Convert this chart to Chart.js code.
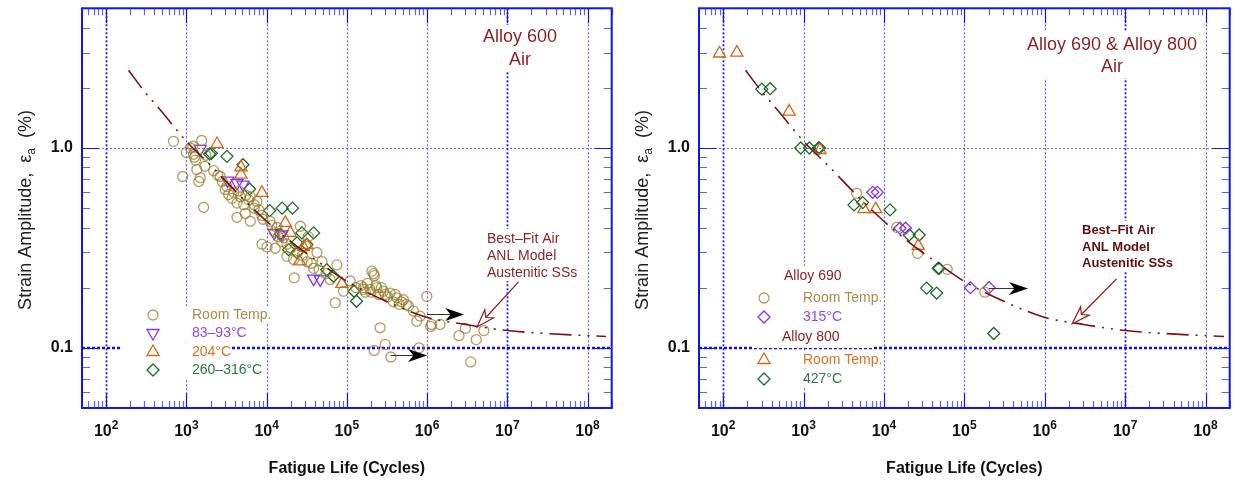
<!DOCTYPE html>
<html>
<head>
<meta charset="utf-8">
<script src="https://cdn.jsdelivr.net/npm/chart.js@4.4.1/dist/chart.umd.min.js"></script>
<style>
  body { margin: 0; background: #fff; }
  .panel { position: absolute; top: 0; height: 484px; }
</style>
</head>
<body>
<div class="panel" style="left:0;width:620px"><canvas id="chart600" width="620" height="484"></canvas></div>
<div class="panel" style="left:620px;width:618px"><canvas id="chart690" width="618" height="484"></canvas></div>

<script>
    // ---- data (N = cycles, e = strain amplitude %) ----

    // best-fit ANL model curve (austenitic SSs, air)
    var fitN = [190, 300, 500, 1000, 2000, 5000, 1e4, 2e4, 5e4, 1e5, 3e5, 1e6, 3e6, 1e7, 3e7, 1.7e8];
    var fitE = [2.45, 1.92, 1.51, 1.08, 0.82, 0.56, 0.43, 0.34, 0.26, 0.215, 0.172, 0.142, 0.131, 0.122, 0.118, 0.114];

    // Alloy 600, room temperature
    var a600RtN = [690, 1550, 1120, 1200, 1230, 1260, 1300, 900, 1490, 1430, 1700, 1750, 2190, 2460, 2650, 1640,
        3050, 3360, 3700, 4270, 4700, 5180, 6260, 7590, 4270, 5420, 6260, 7000, 8750, 8750, 10100, 12800,
        11600, 13500, 16200, 17900, 21700, 22100, 26300, 33000, 42400, 48900, 38500, 75100, 71600, 90800,
        110000, 161000, 205000, 215000, 195000, 236000, 286000, 346000, 419000, 507000, 586000, 676000,
        818000, 991000, 1.14e6, 1.45e6, 744000, 260000, 219000, 300000, 354000, 794000, 2.5e6, 3.0e6,
        4.1e6, 5.1e6, 3.5e6, 1.11e6, 2800, 3200, 3900, 4500, 5500, 6000, 7000, 8000, 9000, 11000, 12500,
        14000, 15500, 18000, 20000, 24000, 28000, 32000, 36000, 45000, 55000, 62000, 130000, 150000,
        170000, 180000, 250000, 320000, 380000, 450000, 1000, 1350, 160000, 200000, 230000, 270000,
        300000, 400000, 480000, 550000, 220000];
    var a600RtE = [1.08, 1.09, 1.0, 1.02, 0.93, 0.9, 0.87, 0.72, 0.71, 0.68, 0.81, 0.92, 0.77, 0.73, 0.72, 0.505,
        0.62, 0.585, 0.56, 0.53, 0.57, 0.52, 0.57, 0.54, 0.45, 0.47, 0.43, 0.5, 0.46, 0.33, 0.32, 0.315,
        0.41, 0.4, 0.355, 0.287, 0.277, 0.224, 0.406, 0.36, 0.3, 0.27, 0.25, 0.26, 0.168, 0.192,
        0.216, 0.196, 0.242, 0.235, 0.196, 0.2, 0.192, 0.188, 0.178, 0.174, 0.162, 0.153,
        0.144, 0.181, 0.131, 0.131, 0.136, 0.126, 0.097, 0.104, 0.09, 0.1, 0.115, 0.125,
        0.11, 0.122, 0.085, 0.128, 0.68, 0.64, 0.6, 0.61, 0.58, 0.55, 0.52, 0.49, 0.44, 0.43, 0.38,
        0.36, 0.34, 0.33, 0.315, 0.3, 0.29, 0.27, 0.265, 0.245, 0.235, 0.22, 0.2, 0.205,
        0.19, 0.21, 0.185, 0.18, 0.17, 0.165, 0.95, 0.78, 0.2, 0.19, 0.205, 0.2,
        0.185, 0.185, 0.17, 0.165, 0.23];

    // Alloy 600, 83-93 C
    var a600T90N = [1490, 3270, 4270, 5070, 12450, 15500, 38500, 46600];
    var a600T90E = [0.99, 0.687, 0.668, 0.656, 0.376, 0.369, 0.222, 0.22];

    // Alloy 600, 204 C
    var a600T204N = [2410, 4790, 4790, 8750, 17100, 19700, 28800, 25700, 86700, 31600];
    var a600T204E = [1.047, 0.8, 0.736, 0.596, 0.422, 0.376, 0.319, 0.271, 0.209, 0.327];

    // Alloy 600, 260-316 C
    var a600T300N = [1950, 2050, 3200, 5070, 6140, 10900, 15600, 21000, 14800, 18800, 23900, 27500, 38500,
        31700, 23900, 56200, 68200, 123000, 132000];
    var a600T300E = [0.933, 0.94, 0.908, 0.825, 0.624, 0.486, 0.5, 0.5, 0.371, 0.31, 0.335, 0.376, 0.376,
        0.329, 0.299, 0.246, 0.228, 0.192, 0.171];

    // Alloy 690, room temperature and 315 C
    var a690RtN = [4570, 14400, 26200, 61200, 180000];
    var a690RtE = [0.593, 0.401, 0.297, 0.247, 0.19];
    var a690T315N = [7250, 8260, 15800, 18600, 119000, 203000];
    var a690T315E = [0.6, 0.6, 0.397, 0.397, 0.2, 0.2];

    // Alloy 800, room temperature and 427 C
    var a800RtN = [90, 148, 661, 1600, 5620, 7890, 26700];
    var a800RtE = [2.97, 3.0, 1.52, 0.977, 0.494, 0.494, 0.324];
    var a800T427N = [302, 384, 922, 1180, 1530, 1580, 4240, 5430, 11900, 20600, 27400, 47300, 48500,
        33900, 45200, 232000];
    var a800T427E = [1.97, 1.98, 1.0, 1.0, 1.0, 1.0, 0.519, 0.533, 0.49, 0.367, 0.367, 0.25, 0.25,
        0.199, 0.188, 0.118];

    // run-out tests: [N start, N arrow tip, strain]
    var runouts600 = [[1e6, 2.9e6, 0.148], [3.5e5, 1e6, 0.0916]];
    var runouts690 = [[2.03e5, 6.2e5, 0.2]];

    // "Best-Fit" pointer arrows: [N tail, e tail, N tip, e tip]
    var pointer600 = [1.38e7, 0.214, 4.2e6, 0.127];
    var pointer690 = [7.8e6, 0.221, 2.2e6, 0.132];

    // axis ticks
    var xDecades = [1e2, 1e3, 1e4, 1e5, 1e6, 1e7, 1e8];
    var xExponents = ['2', '3', '4', '5', '6', '7', '8'];
    var yLabelValues = [0.1, 1];
    var yLabels = ['0.1', '1.0'];

    // ---- colours / helpers ----
    var FONT = '"Liberation Sans", Arial, Helvetica, sans-serif';
    var BLUE = '#1414e6';
    var MAROON = '#8b1e1e';
    var cRoom = 'rgba(150,125,45,0.75)', tRoom = '#a58d4a';
    var cPurple = '#8a35e8', tPurple = '#9a45ea';
    var cOrange = '#d4681a', tOrange = '#d8721f';
    var cGreen = '#1b6b2a', tGreen = '#2b7b3e';

    function pts(n, e) {
        return n.map(function(v, i) { return { x: v, y: e[i] }; });
    }

    function minorTicks(min, max) {
        var out = [];
        for (var p = -3; p <= 9; p++) {
            for (var m = 1; m <= 9; m++) {
                var v = m * Math.pow(10, p);
                if (v >= min * 0.999 && v <= max * 1.001) out.push({ v: v, major: m === 1 });
            }
        }
        return out;
    }

    function drawMarker(ctx, style, x, y, r, color) {
        ctx.save();
        ctx.strokeStyle = color;
        ctx.lineWidth = 1.3;
        ctx.beginPath();
        if (style === 'circle') {
            ctx.arc(x, y, r, 0, Math.PI * 2);
        } else if (style === 'triUp' || style === 'triDown') {
            var s = style === 'triUp' ? 1 : -1;
            for (var k = 0; k < 3; k++) {
                var ang = k * 2 * Math.PI / 3;
                var px = x + Math.sin(ang) * r, py = y - s * Math.cos(ang) * r;
                if (k) ctx.lineTo(px, py); else ctx.moveTo(px, py);
            }
            ctx.closePath();
        } else {
            ctx.moveTo(x, y - r); ctx.lineTo(x + r, y); ctx.lineTo(x, y + r); ctx.lineTo(x - r, y);
            ctx.closePath();
        }
        ctx.stroke();
        ctx.restore();
    }

    // filled "stealth" arrow head, tip at (x, y), pointing along angle a
    function headTo(ctx, x, y, a, len, hw, fill, stroke) {
        ctx.save();
        ctx.translate(x, y);
        ctx.rotate(a);
        ctx.beginPath();
        ctx.moveTo(0, 0);
        ctx.lineTo(-len, -hw);
        ctx.lineTo(-len * 0.72, 0);
        ctx.lineTo(-len, hw);
        ctx.closePath();
        ctx.fillStyle = fill;
        ctx.fill();
        if (stroke) { ctx.strokeStyle = stroke; ctx.lineWidth = 1.2; ctx.stroke(); }
        ctx.restore();
    }

    // ---- plugin: frame, grid, inward ticks, labels, texts, legend ----
    var decorPlugin = {
        id: 'decor',
        beforeDatasetsDraw: function(chart, args, o) {
            var ctx = chart.ctx, a = chart.chartArea;
            var xs = chart.scales.x, ys = chart.scales.y;
            ctx.save();
            // vertical dotted grid at decades
            xDecades.forEach(function(v, i) {
                var px = Math.round(xs.getPixelForValue(v)) + 0.5;
                ctx.beginPath();
                ctx.setLineDash([2, 2]);
                ctx.lineWidth = (i === 0 || i === 5) ? 1.8 : 1.1;
                ctx.strokeStyle = (i === 0 || i === 5) ? 'rgba(20,20,230,0.95)' : 'rgba(40,40,235,0.75)';
                ctx.moveTo(px, a.top);
                ctx.lineTo(px, a.bottom);
                ctx.stroke();
            });
            // horizontal grid: light at 1.0, heavy at 0.1
            var p1 = Math.round(ys.getPixelForValue(1)) + 0.5;
            ctx.beginPath();
            ctx.setLineDash([2, 2]);
            ctx.lineWidth = 1;
            ctx.strokeStyle = 'rgba(60,60,240,0.75)';
            ctx.moveTo(a.left, p1); ctx.lineTo(a.right, p1); ctx.stroke();
            var p01 = Math.round(ys.getPixelForValue(0.1));
            ctx.beginPath();
            ctx.setLineDash([3, 2]);
            ctx.lineWidth = 2.6;
            ctx.strokeStyle = '#1010e0';
            ctx.moveTo(a.left, p01); ctx.lineTo(a.right, p01); ctx.stroke();
            ctx.setLineDash([]);
            // white boxes behind text blocks
            ctx.fillStyle = '#fff';
            o.boxes.forEach(function(b) { ctx.fillRect(b[0], b[1], b[2], b[3]); });
            ctx.restore();
        },
        afterDatasetsDraw: function(chart, args, o) {
            var ctx = chart.ctx, a = chart.chartArea;
            var xs = chart.scales.x, ys = chart.scales.y;
            ctx.save();

            // frame
            ctx.strokeStyle = BLUE;
            ctx.lineWidth = 2;
            ctx.strokeRect(a.left, a.top, a.right - a.left, a.bottom - a.top);

            // inward ticks on all four sides
            ctx.lineWidth = 1.2;
            minorTicks(xs.min, xs.max).forEach(function(t) {
                var px = Math.round(xs.getPixelForValue(t.v)) + 0.5;
                var len = t.major ? 15 : 7;
                ctx.strokeStyle = t.major ? BLUE : 'rgba(30,30,235,0.7)';
                ctx.beginPath();
                ctx.moveTo(px, a.top); ctx.lineTo(px, a.top + len);
                ctx.moveTo(px, a.bottom); ctx.lineTo(px, a.bottom - len);
                ctx.stroke();
            });
            minorTicks(ys.min, ys.max).forEach(function(t) {
                var py = Math.round(ys.getPixelForValue(t.v)) + 0.5;
                var len = t.major ? 17 : 8;
                ctx.strokeStyle = t.major ? BLUE : 'rgba(30,30,235,0.7)';
                ctx.beginPath();
                ctx.moveTo(a.left, py); ctx.lineTo(a.left + len, py);
                ctx.moveTo(a.right, py); ctx.lineTo(a.right - len, py);
                ctx.stroke();
            });

            // tick labels
            ctx.fillStyle = '#111';
            ctx.textBaseline = 'alphabetic';
            xDecades.forEach(function(v, i) {
                var px = xs.getPixelForValue(v);
                ctx.font = 'bold 16px ' + FONT;
                var w1 = ctx.measureText('10').width;
                ctx.font = 'bold 12px ' + FONT;
                var w2 = ctx.measureText(xExponents[i]).width;
                var x0 = px - (w1 + w2) / 2;
                ctx.textAlign = 'left';
                ctx.font = 'bold 16px ' + FONT;
                ctx.fillText('10', x0, 436);
                ctx.font = 'bold 12px ' + FONT;
                ctx.fillText(xExponents[i], x0 + w1, 429);
            });
            ctx.font = 'bold 16px ' + FONT;
            ctx.textAlign = 'right';
            ctx.textBaseline = 'middle';
            yLabelValues.forEach(function(v, i) {
                ctx.fillText(yLabels[i], a.left - 9, ys.getPixelForValue(v));
            });

            // axis titles
            ctx.textAlign = 'center';
            ctx.textBaseline = 'alphabetic';
            ctx.font = 'bold 16px ' + FONT;
            ctx.fillText('Fatigue Life (Cycles)', (a.left + a.right) / 2, 473);

            ctx.save();
            ctx.translate(o.yTitleX, 210);
            ctx.rotate(-Math.PI / 2);
            ctx.fillStyle = '#222';
            ctx.font = '18px ' + FONT;
            var s1 = 'Strain Amplitude,  \u03b5', s2 = 'a', s3 = '  (%)';
            var w1 = ctx.measureText(s1).width, w3 = ctx.measureText(s3).width;
            ctx.font = '12px ' + FONT;
            var w2 = ctx.measureText(s2).width;
            var x0 = -(w1 + w2 + w3) / 2;
            ctx.textAlign = 'left';
            ctx.font = '18px ' + FONT;
            ctx.fillText(s1, x0, 6);
            ctx.fillText(s3, x0 + w1 + w2, 6);
            ctx.font = '12px ' + FONT;
            ctx.fillText(s2, x0 + w1, 10);
            ctx.restore();

            // panel title
            ctx.fillStyle = MAROON;
            ctx.textAlign = 'center';
            ctx.textBaseline = 'middle';
            ctx.font = '18px ' + FONT;
            o.title.lines.forEach(function(t, i) {
                ctx.fillText(t, o.title.x, o.title.y[i]);
            });

            // best-fit note and its pointer
            ctx.fillStyle = o.note.color;
            ctx.textAlign = 'left';
            ctx.font = o.note.font;
            o.note.lines.forEach(function(t, i) {
                ctx.fillText(t, o.note.x, o.note.y[i]);
            });
            var pt = o.pointer;
            var tx = xs.getPixelForValue(pt[0]), ty = ys.getPixelForValue(pt[1]);
            var hx = xs.getPixelForValue(pt[2]), hy = ys.getPixelForValue(pt[3]);
            var ang = Math.atan2(hy - ty, hx - tx);
            ctx.strokeStyle = MAROON;
            ctx.lineWidth = 1.2;
            ctx.beginPath();
            ctx.moveTo(tx, ty);
            ctx.lineTo(hx - Math.cos(ang) * 12, hy - Math.sin(ang) * 12);
            ctx.stroke();
            headTo(ctx, hx, hy, ang, 18, 6, '#fff', MAROON);

            // run-out arrows
            o.runouts.forEach(function(r) {
                var x1 = xs.getPixelForValue(r[0]), x2 = xs.getPixelForValue(r[1]);
                var y = Math.round(ys.getPixelForValue(r[2])) + 0.5;
                ctx.strokeStyle = '#333';
                ctx.lineWidth = 1;
                ctx.beginPath();
                ctx.moveTo(x1, y); ctx.lineTo(x2 - 10, y);
                ctx.stroke();
                headTo(ctx, x2, y, 0, 19, 6.5, '#000');
            });

            // legend
            ctx.font = '14px ' + FONT;
            ctx.textBaseline = 'middle';
            o.legend.forEach(function(it) {
                ctx.fillStyle = it.color;
                if (it.header) {
                    ctx.fillText(it.text, it.x, it.y);
                } else {
                    drawMarker(ctx, it.style, o.legendMarkerX, it.y, it.r, it.mcolor);
                    ctx.fillStyle = it.color;
                    ctx.fillText(it.text, o.legendTextX, it.y);
                }
            });
            ctx.restore();
        }
    };

    function scatterSet(n, e, style, color, r, rot) {
        return {
            type: 'scatter',
            data: pts(n, e),
            pointStyle: style,
            rotation: rot || 0,
            pointRadius: r,
            pointBorderWidth: 1.3,
            borderColor: color,
            pointBorderColor: color,
            backgroundColor: 'rgba(0,0,0,0)',
            pointBackgroundColor: 'rgba(0,0,0,0)',
            order: 2
        };
    }

    function fitSet() {
        return {
            type: 'line',
            data: pts(fitN, fitE),
            borderColor: '#7a1212',
            borderWidth: 1.6,
            borderDash: [22, 7, 2, 7, 2, 7],
            pointRadius: 0,
            cubicInterpolationMode: 'monotone',
            fill: false,
            order: 1
        };
    }

    function baseOptions(pad, decor) {
        return {
            responsive: false,
            animation: false,
            layout: { padding: pad },
            plugins: { legend: { display: false }, tooltip: { enabled: false }, decor: decor },
            scales: {
                x: { type: 'logarithmic', min: 50, max: 2e8, display: false },
                y: { type: 'logarithmic', min: 0.05, max: 5, display: false }
            }
        };
    }

    // ---- left panel: Alloy 600 ----
    new Chart(document.getElementById('chart600').getContext('2d'), {
        type: 'scatter',
        data: {
            datasets: [
                fitSet(),
                scatterSet(a600RtN, a600RtE, 'circle', cRoom, 5),
                scatterSet(a600T90N, a600T90E, 'triangle', cPurple, 7, 180),
                scatterSet(a600T204N, a600T204E, 'triangle', cOrange, 7),
                scatterSet(a600T300N, a600T300E, 'rectRot', cGreen, 6)
            ]
        },
        options: baseOptions({ left: 82, right: 8, top: 8, bottom: 76 }, {
            yTitleX: 25,
            title: { lines: ['Alloy 600', 'Air'], x: 520, y: [37, 60] },
            note: { lines: ['Best\u2013Fit Air', 'ANL Model', 'Austenitic SSs'], x: 487, y: [239, 256, 273],
                font: '14px ' + FONT, color: '#8b2424' },
            pointer: pointer600,
            runouts: runouts600,
            boxes: [[480, 25, 82, 47], [484, 229, 100, 52], [122, 306, 152, 18], [122, 324, 96, 18],
                [122, 343, 110, 18], [122, 361, 142, 18]],
            legendMarkerX: 153, legendTextX: 192,
            legend: [
                { style: 'circle', r: 5, mcolor: cRoom, color: tRoom, text: 'Room Temp.', y: 315 },
                { style: 'triDown', r: 7, mcolor: cPurple, color: tPurple, text: '83\u201393\u00b0C', y: 333 },
                { style: 'triUp', r: 7, mcolor: cOrange, color: tOrange, text: '204\u00b0C', y: 352 },
                { style: 'diamond', r: 6, mcolor: cGreen, color: tGreen, text: '260\u2013316\u00b0C', y: 370 }
            ]
        }),
        plugins: [decorPlugin]
    });

    // ---- right panel: Alloy 690 & Alloy 800 ----
    new Chart(document.getElementById('chart690').getContext('2d'), {
        type: 'scatter',
        data: {
            datasets: [
                fitSet(),
                scatterSet(a690RtN, a690RtE, 'circle', cRoom, 5),
                scatterSet(a690T315N, a690T315E, 'rectRot', cPurple, 6),
                scatterSet(a800RtN, a800RtE, 'triangle', cOrange, 7),
                scatterSet(a800T427N, a800T427E, 'rectRot', cGreen, 6)
            ]
        },
        options: baseOptions({ left: 79, right: 7, top: 8, bottom: 76 }, {
            yTitleX: 22,
            title: { lines: ['Alloy 690 & Alloy 800', 'Air'], x: 492, y: [45, 67] },
            note: { lines: ['Best\u2013Fit Air', 'ANL Model', 'Austenitic SSs'], x: 462, y: [230, 247, 263],
                font: 'bold 13px ' + FONT, color: '#5e1010' },
            pointer: pointer690,
            runouts: runouts690,
            boxes: [[402, 32, 182, 46], [458, 221, 102, 50], [134, 266, 120, 82], [134, 351, 120, 37]],
            legendMarkerX: 144, legendTextX: 183,
            legend: [
                { header: true, color: MAROON, text: 'Alloy 690', x: 164, y: 276 },
                { style: 'circle', r: 5, mcolor: cRoom, color: tRoom, text: 'Room Temp.', y: 298 },
                { style: 'diamond', r: 6, mcolor: cPurple, color: tPurple, text: '315\u00b0C', y: 317 },
                { header: true, color: MAROON, text: 'Alloy 800', x: 162, y: 337 },
                { style: 'triUp', r: 7, mcolor: cOrange, color: tOrange, text: 'Room Temp.', y: 360 },
                { style: 'diamond', r: 6, mcolor: cGreen, color: tGreen, text: '427\u00b0C', y: 379 }
            ]
        }),
        plugins: [decorPlugin]
    });
</script>
</body>
</html>
